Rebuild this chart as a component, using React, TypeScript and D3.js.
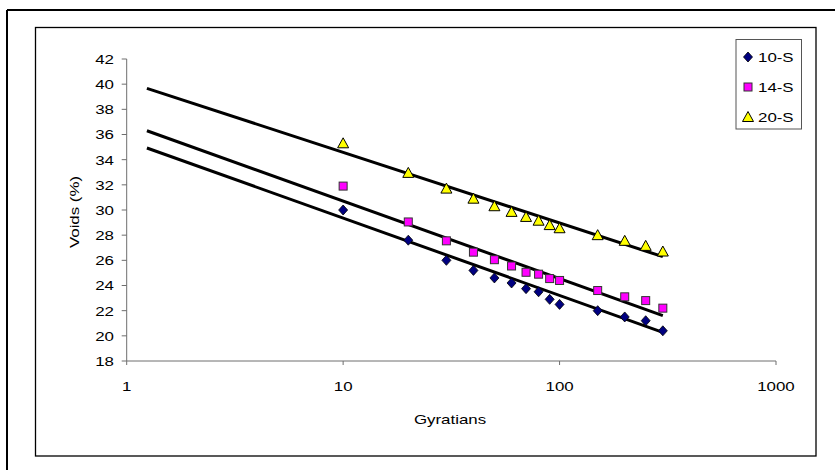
import React from "react";
import * as d3 from "d3";

const gyrations = [10, 20, 30, 40, 50, 60, 70, 80, 90, 100, 150, 200, 250, 300];
const s10 = [30.0, 27.6, 26.0, 25.2, 24.6, 24.2, 23.75, 23.5, 22.9, 22.5, 22.0, 21.5, 21.2, 20.4];
const s14 = [31.9, 29.05, 27.55, 26.65, 26.05, 25.55, 25.05, 24.9, 24.55, 24.4, 23.6, 23.1, 22.8, 22.2];
const s20 = [35.3, 32.95, 31.7, 30.9, 30.3, 29.85, 29.45, 29.15, 28.8, 28.55, 28.0, 27.55, 27.15, 26.7];
const trendX = [1.24, 300];
const trend10 = [34.93, 20.28];
const trend14 = [36.3, 21.6];
const trend20 = [39.67, 26.29];
const yTicks = [18, 20, 22, 24, 26, 28, 30, 32, 34, 36, 38, 40, 42];
const xTicks = [1, 10, 100, 1000];
const seriesNames = ["10-S", "14-S", "20-S"];

const FONT = "'Liberation Sans', Arial, sans-serif";
const SX = 1.25;

function Txt({ x, y, anchor, children, size = 13.5, rotate = 0 }: any) {
  return (
    <g transform={`translate(${x},${y}) rotate(${rotate}) scale(${SX},1)`}>
      <text x={0} y={0} textAnchor={anchor} dominantBaseline="central" fontFamily={FONT} fontSize={size} fill="#000">
        {children}
      </text>
    </g>
  );
}

function Marker({ kind, x, y }: any) {
  if (kind === 0) {
    const r = 5;
    return <path d={`M${x},${y - r}L${x + r * 0.9},${y}L${x},${y + r}L${x - r * 0.9},${y}Z`} fill="#000080" stroke="#000" strokeWidth={0.8} />;
  }
  if (kind === 1) {
    const h = 4;
    return <rect x={x - h} y={y - h} width={2 * h} height={2 * h} fill="#FF00FF" stroke="#333" strokeWidth={1} />;
  }
  const w = 5.5;
  return <path d={`M${x},${y - 5.5}L${x + w},${y + 4.5}L${x - w},${y + 4.5}Z`} fill="#FFFF00" stroke="#000" strokeWidth={1} />;
}

export default function App() {
  const x = d3.scaleLog().domain([1, 1000]).range([126.7, 776]);
  const y = d3.scaleLinear().domain([18, 42]).range([361, 59]);
  const line = d3.line<number>().x((_, i) => x(trendX[i])).y((d) => y(d));
  const series = [s10, s14, s20];
  const trends = [trend10, trend14, trend20];
  const axisColor = "#6e6e6e";

  return (
    <svg width={835} height={470} style={{ position: "absolute", left: 0, top: 0, background: "#fff" }}>
      <rect x={0} y={0} width={835} height={470} fill="#fff" />
      <line x1={7} y1={10} x2={835} y2={10} stroke="#000" strokeWidth={2} />
      <line x1={7} y1={10} x2={7} y2={470} stroke="#000" strokeWidth={2} />
      <rect x={35.5} y={27.5} width={780.5} height={428.5} fill="none" stroke="#000" strokeWidth={1.3} />

      {/* y axis */}
      <line x1={x(1)} y1={y(42)} x2={x(1)} y2={y(18)} stroke={axisColor} strokeWidth={1} />
      {yTicks.map((t) => (
        <g key={t}>
          <line x1={x(1) - 5} x2={x(1)} y1={y(t)} y2={y(t)} stroke={axisColor} strokeWidth={1} />
          <Txt x={114} y={y(t)} anchor="end">{t}</Txt>
        </g>
      ))}
      {/* x axis */}
      <line x1={x(1)} y1={y(18)} x2={x(1000)} y2={y(18)} stroke={axisColor} strokeWidth={1} />
      {xTicks.map((t) => (
        <g key={t}>
          <line x1={x(t)} x2={x(t)} y1={y(18)} y2={y(18) + 4} stroke={axisColor} strokeWidth={1} />
          <Txt x={x(t)} y={386} anchor="middle">{t}</Txt>
        </g>
      ))}
      <Txt x={450} y={419} anchor="middle">Gyratians</Txt>
      <Txt x={74} y={212} anchor="middle" rotate={-90}>Voids (%)</Txt>

      {/* trend lines */}
      {trends.map((t, i) => (
        <path key={i} d={line(t) || ""} fill="none" stroke="#000" strokeWidth={3} />
      ))}

      {/* markers */}
      {series.map((s, k) => (
        <g key={k}>
          {s.map((v, i) => (
            <Marker key={i} kind={k} x={x(gyrations[i])} y={y(v)} />
          ))}
        </g>
      ))}

      {/* legend */}
      <rect x={736} y={39.5} width={65.5} height={89.5} fill="#fff" stroke="#555" strokeWidth={1} />
      {seriesNames.map((n, i) => (
        <g key={n}>
          <Marker kind={i} x={748} y={57 + i * 30} />
          <Txt x={758} y={57 + i * 30} anchor="start">{n}</Txt>
        </g>
      ))}
    </svg>
  );
}
